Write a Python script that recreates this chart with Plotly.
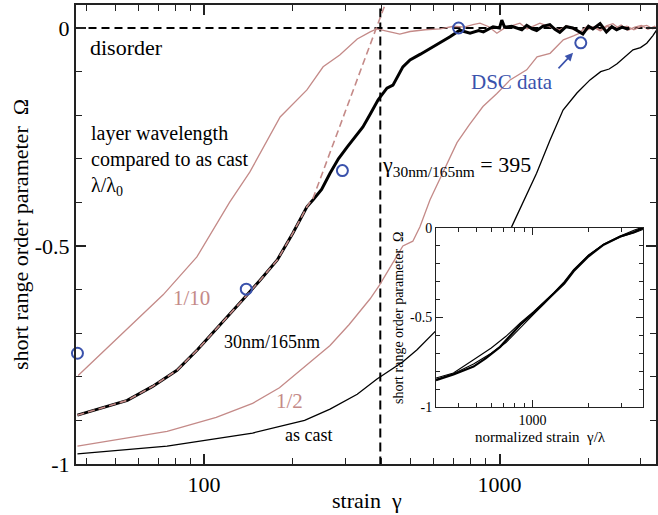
import plotly.graph_objects as go
import math

# ---------------- data ----------------
# thick black: 30nm/165nm
thick_x = [37.3, 45, 55, 67, 81, 95, 107, 120, 135, 155, 177, 200, 223, 234, 250, 267, 285, 305, 325, 345,
           365, 388, 416, 436, 471, 498, 540, 590, 630, 680, 734, 795, 850, 882, 951, 1000, 1018, 1040, 1100,
           1145, 1190, 1236, 1290, 1336, 1400, 1480, 1540, 1600, 1680, 1770, 1840, 1915, 2000, 2070, 2190,
           2300, 2400, 2490, 2600, 2700, 2750]
thick_y = [-0.888, -0.872, -0.854, -0.822, -0.785, -0.738, -0.700, -0.662, -0.624, -0.578, -0.532, -0.470,
           -0.410, -0.394, -0.370, -0.333, -0.300, -0.273, -0.250, -0.227, -0.198, -0.165, -0.138, -0.131,
           -0.089, -0.073, -0.060, -0.045, -0.032, -0.020, -0.005, -0.012, -0.006, -0.009, 0.003, 0.0, 0.018,
           0.002, 0.004, 0.0, -0.004, 0.006, -0.002, -0.006, 0.004, 0.008, -0.003, -0.010, 0.003, 0.0,
           -0.006, -0.014, 0.004, -0.002, 0.010, -0.009, 0.003, -0.004, 0.002, -0.002, 0.0]

# dashed pink extrapolation
dash_x = [37.3, 45, 55, 67, 81, 95, 107, 120, 135, 155, 177, 200, 223, 234, 409]
dash_y = [-0.888, -0.872, -0.854, -0.822, -0.785, -0.738, -0.700, -0.662, -0.624, -0.578, -0.532, -0.470,
          -0.410, -0.390, 0.052]

# 1/10
tenth_x = [37.5, 55, 72.7, 94.6, 122, 143, 181, 223, 253, 288, 330, 365, 384, 426, 460, 498, 560, 630, 700,
           760, 813, 859, 920, 980, 1050, 1110, 1173, 1240, 1300, 1370, 1448, 1530, 1600, 1690, 1775, 1880,
           1980, 2080, 2188, 2300, 2420, 2550, 2698, 2850, 3000, 3150, 3300, 3400]
tenth_y = [-0.797, -0.690, -0.612, -0.525, -0.400, -0.330, -0.204, -0.142, -0.089, -0.062, -0.025, -0.009,
           -0.002, -0.009, -0.014, -0.008, -0.004, -0.002, 0.004, 0.002, 0.008, 0.011, 0.003, -0.012, 0.002,
           0.006, 0.011, -0.002, 0.004, 0.011, 0.005, 0.001, -0.004, 0.006, -0.003, -0.008, 0.004, 0.002,
           -0.006, 0.005, 0.010, -0.002, 0.004, -0.004, 0.003, 0.006, -0.002, 0.002]

# 1/2
half_x = [37.3, 50, 75, 110, 146, 180, 216, 267, 310, 365, 393, 430, 471, 509, 538, 582, 615, 665, 718, 790,
          879, 980, 1086, 1236, 1340, 1483, 1644, 1780, 1905, 2000, 2100, 2200, 2320, 2450, 2580, 2720, 2870,
          3020, 3180, 3350, 3400]
half_y = [-0.959, -0.945, -0.925, -0.893, -0.861, -0.825, -0.781, -0.728, -0.680, -0.621, -0.589, -0.545,
          -0.500, -0.489, -0.456, -0.394, -0.360, -0.310, -0.263, -0.222, -0.180, -0.150, -0.119, -0.096,
          -0.066, -0.058, -0.027, -0.018, -0.009, -0.004, 0.003, -0.006, 0.004, -0.002, 0.007, -0.005, 0.002,
          0.006, -0.003, 0.004, 0.0]

# as cast
cast_x = [37.3, 75, 146, 219, 267, 330, 385, 470, 526, 612, 800, 950, 1099, 1268, 1335, 1483, 1641, 1828,
          2024, 2200, 2350, 2500, 2650, 2830, 3000, 3150, 3300, 3400]
cast_y = [-0.977, -0.959, -0.929, -0.900, -0.874, -0.840, -0.805, -0.766, -0.738, -0.693, -0.600, -0.530,
          -0.456, -0.364, -0.333, -0.257, -0.188, -0.149, -0.119, -0.100, -0.094, -0.082, -0.068, -0.050,
          -0.045, -0.035, -0.018, -0.005]

# DSC data
dsc_x = [37.3, 139, 294, 727, 1884]
dsc_y = [-0.746, -0.599, -0.327, 0.0, -0.034]

# reference lines
gamma_c = 395
disorder_level = 0.0

# inset: normalized curves
in_thick_x = [303, 376, 482, 560, 670, 760, 859, 1012, 1150, 1297, 1480, 1661, 2000, 2409, 2960, 3500, 3919]
in_thick_y = [-0.851, -0.818, -0.774, -0.728, -0.664, -0.602, -0.540, -0.475, -0.420, -0.372, -0.310, -0.242,
              -0.158, -0.093, -0.047, -0.022, 0.0]
in_thin1_x = [303, 376, 482, 600, 720, 859, 1012, 1150, 1297, 1480, 1661, 2000, 2409, 2960, 3500, 3919]
in_thin1_y = [-0.838, -0.810, -0.736, -0.670, -0.605, -0.530, -0.468, -0.415, -0.362, -0.300, -0.232, -0.150,
              -0.090, -0.045, -0.012, 0.005]
in_thin2_x = [303, 376, 482, 600, 720, 859, 1012, 1150, 1297, 1480, 1661, 2000, 2409, 2960, 3500, 3919]
in_thin2_y = [-0.845, -0.814, -0.760, -0.700, -0.640, -0.555, -0.482, -0.425, -0.368, -0.305, -0.238, -0.152,
              -0.092, -0.050, -0.028, -0.008]

# tick labels
main_x_ticks = [100, 1000]
main_x_ticktext = ["100", "1000"]
main_x_minor = [40, 50, 60, 70, 80, 90, 200, 300, 400, 500, 600, 700, 800, 900, 2000, 3000]
main_y_ticks = [-1, -0.5, 0]
main_y_ticktext = ["-1", "-0.5", "0"]
inset_x_ticks = [1000]
inset_x_ticktext = ["1000"]
inset_x_minor = [400, 500, 600, 700, 800, 900, 2000, 3000]

# ---------------- styles ----------------
PINK = "#c48a88"
BLUE = "#3a52ac"
SERIF = "Liberation Serif"

W, H = 658, 515
ML, MR, MT, MB = 76, 2, 5, 51
PW, PH = W - ML - MR, H - MT - MB


def px(x):
    return (x - ML) / PW


def py(y):
    return (H - MB - y) / PH


fig = go.Figure()

# reference dashed lines
fig.add_trace(go.Scatter(x=[30, 4000], y=[disorder_level, disorder_level], mode="lines",
                         line=dict(color="black", width=2, dash="8px,5px"), hoverinfo="skip"))
fig.add_trace(go.Scatter(x=[gamma_c, gamma_c], y=[-1.1, 0.1], mode="lines",
                         line=dict(color="black", width=2, dash="9px,5px"), hoverinfo="skip"))

fig.add_trace(go.Scatter(x=tenth_x, y=tenth_y, mode="lines", line=dict(color=PINK, width=1.3)))
fig.add_trace(go.Scatter(x=half_x, y=half_y, mode="lines", line=dict(color=PINK, width=1.3)))
fig.add_trace(go.Scatter(x=cast_x, y=cast_y, mode="lines", line=dict(color="black", width=1.3)))
fig.add_trace(go.Scatter(x=thick_x, y=thick_y, mode="lines", line=dict(color="black", width=3)))
fig.add_trace(go.Scatter(x=dash_x, y=dash_y, mode="lines", line=dict(color=PINK, width=1.6, dash="7px,4px")))
fig.add_trace(go.Scatter(x=dsc_x, y=dsc_y, mode="markers", cliponaxis=False,
                         marker=dict(symbol="circle-open", size=11, color=BLUE, line=dict(width=2, color=BLUE))))

# inset traces
for xs, ys, w in [(in_thin1_x, in_thin1_y, 1.1), (in_thin2_x, in_thin2_y, 1.1), (in_thick_x, in_thick_y, 2.2)]:
    fig.add_trace(go.Scatter(x=xs, y=ys, mode="lines", line=dict(color="black", width=w),
                             xaxis="x2", yaxis="y2"))

axis_common = dict(showgrid=False, zeroline=False, showline=True, linecolor="#222", ticks="inside",
                   tickcolor="#222", mirror="allticks", automargin=False)

fig.update_layout(
    template="none",
    width=W, height=H,
    margin=dict(l=ML, r=MR, t=MT, b=MB, pad=0),
    paper_bgcolor="white", plot_bgcolor="white",
    showlegend=False,
    font=dict(family=SERIF, color="black"),
    xaxis=dict(type="log", range=[1.5668, 3.5296], tickvals=main_x_ticks, ticktext=main_x_ticktext,
               ticklen=10, tickwidth=1.5, linewidth=2, tickfont=dict(size=22, family=SERIF),
               minor=dict(tickvals=main_x_minor, ticks="inside", ticklen=6, tickwidth=1.2, tickcolor="#222"),
               **axis_common),
    yaxis=dict(range=[-1, 0.0528], tickvals=main_y_ticks, ticktext=main_y_ticktext,
               ticklen=10, tickwidth=1.5, linewidth=2, tickfont=dict(size=22, family=SERIF),
               minor=dict(dtick=0.1, tick0=0, ticks="inside", ticklen=6, tickwidth=1.2, tickcolor="#222"),
               **axis_common),
    xaxis2=dict(type="log", range=[math.log10(303), math.log10(3919)], domain=[px(436), px(643)],
                anchor="y2", tickvals=inset_x_ticks, ticktext=inset_x_ticktext, ticklen=7, tickwidth=1,
                linewidth=1, tickfont=dict(size=14, family=SERIF),
                minor=dict(tickvals=inset_x_minor, ticks="inside", ticklen=4, tickwidth=1, tickcolor="#222"),
                **axis_common),
    yaxis2=dict(range=[-1, 0], domain=[py(407), py(228)], anchor="x2", tickvals=main_y_ticks,
                ticktext=main_y_ticktext, ticklen=7, tickwidth=1, linewidth=1,
                tickfont=dict(size=14, family=SERIF),
                minor=dict(dtick=0.1, tick0=0, ticks="inside", ticklen=4, tickwidth=1, tickcolor="#222"),
                **axis_common),
)

ann = []


def txt(text, x, y, size, color="black", xanchor="left", angle=0):
    ann.append(dict(text=text, x=px(x), y=py(y), xref="paper", yref="paper", showarrow=False,
                    xanchor=xanchor, yanchor="middle", textangle=angle,
                    font=dict(size=size, color=color, family=SERIF), align="left"))


txt("disorder", 88, 47, 22)
txt("layer wavelength<br>compared to as cast<br>λ/λ<sub>0</sub>", 89, 160, 20)
txt("1/10", 171, 298, 21, PINK)
txt("30nm/165nm", 222, 342, 18)
txt("1/2", 274, 401, 21, PINK)
txt("as cast", 283, 435, 18)
txt("γ<sub>30nm/165nm</sub> = 395", 380, 166, 22)
txt("DSC data", 469, 82, 21, BLUE)
txt("strain  γ", 367, 500, 22, xanchor="center")
txt("short range order parameter  Ω", 20, 235, 22, xanchor="center", angle=-90)
txt("normalized strain  γ/λ", 540, 437, 15, xanchor="center")
txt("short range order parameter  Ω", 398, 318, 14, xanchor="center", angle=-90)

# arrow pointing to DSC circle
ann.append(dict(text="", x=math.log10(1774), y=-0.057, xref="x", yref="y", showarrow=True,
                ax=-16, ay=17, arrowhead=2, arrowsize=1, arrowwidth=1.6, arrowcolor=BLUE))

fig.update_layout(annotations=ann)

fig.write_html("out.html", config={"displayModeBar": False},
               post_script="document.body.style.margin='0px';document.body.style.padding='0px';")
